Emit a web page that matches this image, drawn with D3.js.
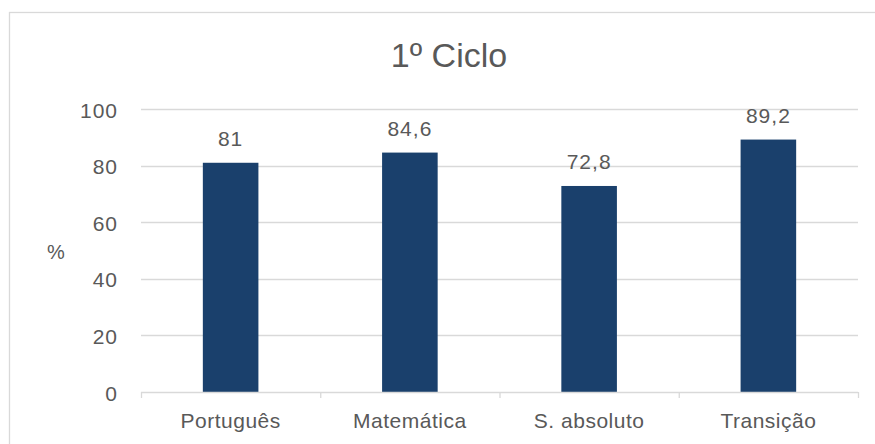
<!DOCTYPE html>
<html><head><meta charset="utf-8">
<script src="https://cdn.jsdelivr.net/npm/d3@7/dist/d3.min.js"></script>
<style>body{margin:0;background:#fff}svg{display:block}text{font-family:"Liberation Sans",Arial,sans-serif;fill:#595959}</style>
</head><body>
<script>
const categories = ["Português", "Matemática", "S. absoluto", "Transição"];
const values = [81, 84.6, 72.8, 89.2];
const valueLabels = ["81", "84,6", "72,8", "89,2"];
const yTicks = [0, 20, 40, 60, 80, 100];
const title = "1º Ciclo";
const yTitle = "%";

const W = 875, H = 444;
const FONT = '"Liberation Sans",Arial,sans-serif';
const svg = d3.select("body").append("svg").attr("width", W).attr("height", H);
svg.append("rect").attr("x", 9.5).attr("y", 12.5).attr("width", 900).attr("height", 500)
  .attr("fill", "#fff").attr("stroke", "#d9d9d9").attr("stroke-width", 1.3);

const m = {left: 141, right: 858, top: 109, bottom: 392};
const x = d3.scaleBand().domain(categories).range([m.left, m.right]).paddingInner(0.69).paddingOuter(0.345);
const xb = d3.scaleBand().domain(categories).range([m.left, m.right]);
const y = d3.scaleLinear().domain([0, 100]).range([m.bottom, m.top]);

// gridlines
svg.append("g").selectAll("line").data(yTicks.filter(d => d > 0)).join("line")
  .attr("x1", m.left).attr("x2", m.right).attr("y1", d => Math.round(y(d)) + 0.5).attr("y2", d => Math.round(y(d)) + 0.5)
  .attr("stroke", "#d9d9d9").attr("stroke-width", 1.3);

// y tick labels
const yAxis = d3.axisLeft(y).tickValues(yTicks).tickSize(0).tickPadding(0);
const ga = svg.append("g").attr("transform", `translate(118,0)`).call(yAxis);
ga.select(".domain").remove();
ga.selectAll("text").attr("font-size", 21).attr("fill", "#595959").attr("dy", null).attr("y", 8)
  .style("font-family", FONT).style("letter-spacing", "1px");

// bars
svg.append("g").selectAll("rect").data(values).join("rect")
  .attr("x", (d, i) => x(categories[i])).attr("width", x.bandwidth())
  .attr("y", d => y(d)).attr("height", d => y(0) - y(d)).attr("fill", "#1a406c");

// x axis
const xAxis = d3.axisBottom(xb).tickSize(0).tickPadding(0);
const gx = svg.append("g").attr("transform", `translate(0,${m.bottom})`).call(xAxis);
gx.select(".domain").remove();
gx.selectAll("text").attr("font-size", 21).attr("fill", "#595959").attr("dy", null).attr("y", 36)
  .style("font-family", FONT).style("letter-spacing", "0.5px");
svg.append("line").attr("x1", m.left).attr("x2", m.right).attr("y1", m.bottom + 0.5).attr("y2", m.bottom + 0.5)
  .attr("stroke", "#d9d9d9").attr("stroke-width", 1.3);
const bounds = categories.map(c => xb(c)).concat([m.right]);
svg.append("g").selectAll("line").data(bounds).join("line")
  .attr("x1", d => d + 0.5).attr("x2", d => d + 0.5).attr("y1", m.bottom).attr("y2", m.bottom + 6)
  .attr("stroke", "#d9d9d9").attr("stroke-width", 1.3);

// value labels
svg.append("g").selectAll("text").data(values).join("text")
  .attr("x", (d, i) => x(categories[i]) + x.bandwidth() / 2).attr("y", d => y(d) - 17)
  .attr("text-anchor", "middle").attr("font-size", 21).style("letter-spacing", "1px").text((d, i) => valueLabels[i]);

// title
svg.append("text").attr("x", 449).attr("y", 67).attr("text-anchor", "middle").attr("font-size", 34).text(title);
svg.append("text").attr("x", 56).attr("y", 259).attr("text-anchor", "middle").attr("font-size", 20).text(yTitle);
</script>
</body></html>
